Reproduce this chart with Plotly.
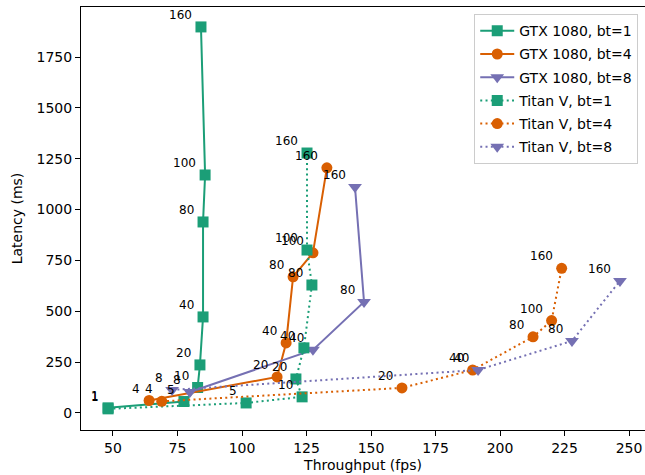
import plotly.graph_objects as go

# ---- data ----
gtx_bt1_x = [48.1, 77.5, 82.8, 83.7, 84.9, 84.9, 85.7, 84.1]
gtx_bt1_y = [25, 56, 125, 236, 472, 939, 1170, 1898]
gtx_bt1_lab = ["1", "5", "10", "20", "40", "80", "100", "160"]

gtx_bt4_x = [64.0, 113.6, 117.1, 119.8, 127.5, 132.9]
gtx_bt4_y = [61, 177, 344, 669, 787, 1205]
gtx_bt4_lab = ["4", "20", "40", "80", "100", "160"]

gtx_bt8_x = [79.8, 127.5, 147.3, 143.8]
gtx_bt8_y = [103, 310, 546, 1111]
gtx_bt8_lab = ["8", "40", "80", "160"]

titan_bt1_x = [48.1, 101.6, 123.3, 120.9, 124.0, 127.1, 125.2, 125.2]
titan_bt1_y = [20, 49, 79, 167, 320, 629, 801, 1278]
titan_bt1_lab = ["1", "5", "10", "20", "40", "80", "100", "160"]

titan_bt4_x = [68.9, 162.0, 189.4, 212.8, 220.0, 223.9]
titan_bt4_y = [57, 123, 211, 374, 454, 711]
titan_bt4_lab = ["4", "20", "40", "80", "100", "160"]

titan_bt8_x = [72.9, 191.5, 227.9, 246.5]
titan_bt8_y = [113, 211, 354, 649]
titan_bt8_lab = ["8", "40", "80", "160"]

x_ticks = [50, 75, 100, 125, 150, 175, 200, 225, 250]
y_ticks = [0, 250, 500, 750, 1000, 1250, 1500, 1750]

TEAL, ORANGE, PURPLE = "#1b9e77", "#d95f02", "#7570b3"
FONT = "DejaVu Sans"

series = [
    ("GTX 1080, bt=1", gtx_bt1_x, gtx_bt1_y, gtx_bt1_lab, TEAL, "square", "solid"),
    ("GTX 1080, bt=4", gtx_bt4_x, gtx_bt4_y, gtx_bt4_lab, ORANGE, "circle", "solid"),
    ("GTX 1080, bt=8", gtx_bt8_x, gtx_bt8_y, gtx_bt8_lab, PURPLE, "triangle-down", "solid"),
    ("Titan V, bt=1", titan_bt1_x, titan_bt1_y, titan_bt1_lab, TEAL, "square", "2px,3.3px"),
    ("Titan V, bt=4", titan_bt4_x, titan_bt4_y, titan_bt4_lab, ORANGE, "circle", "2px,3.3px"),
    ("Titan V, bt=8", titan_bt8_x, titan_bt8_y, titan_bt8_lab, PURPLE, "triangle-down", "2px,3.3px"),
]

fig = go.Figure()
for i, (name, xs, ys, labs, col, sym, dash) in enumerate(series):
    fig.add_trace(go.Scatter(
        x=xs, y=ys, name=name, mode="lines+markers", legendgroup=f"g{i}",
        line=dict(color=col, width=2, dash=dash),
        marker=dict(color=col, symbol=sym, size=11 if sym != "triangle-down" else 12,
                    line=dict(width=0)),
        cliponaxis=False,
    ))
    for xv, yv, t in zip(xs, ys, labs):
        fig.add_annotation(x=xv, y=yv, text=t, showarrow=False,
                           xanchor="right", yanchor="middle",
                           xshift=-7, yshift=12,
                           font=dict(family=FONT, size=12, color="black"))

axis_common = dict(
    showgrid=False, zeroline=False, showline=True, linecolor="black", linewidth=1,
    ticks="outside", ticklen=5, tickwidth=1, tickcolor="black",
    tickfont=dict(family=FONT, size=14, color="black"),
)

fig.update_layout(
    width=645, height=475,
    margin=dict(l=81, r=0, t=7, b=45),
    paper_bgcolor="white", plot_bgcolor="white",
    font=dict(family=FONT, color="black"),
    xaxis=dict(range=[37.6, 256.2], tickvals=x_ticks, mirror=True,
               title=dict(text="Throughput (fps)", font=dict(family=FONT, size=14), standoff=5),
               **axis_common),
    yaxis=dict(range=[-84, 1996], tickvals=y_ticks,
               title=dict(text="Latency (ms)", font=dict(family=FONT, size=14), standoff=10),
               **axis_common),
    legend=dict(x=0.988, y=0.983, xanchor="right", yanchor="top",
                bordercolor="#cccccc", borderwidth=1, bgcolor="rgba(255,255,255,0.8)",
                font=dict(family=FONT, size=14), tracegroupgap=2,
                itemwidth=34),
    showlegend=True,
)

fig.write_html("out.html")
